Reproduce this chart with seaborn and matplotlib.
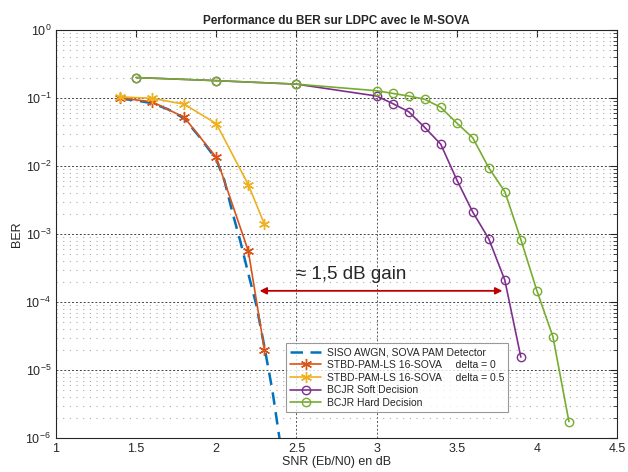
import numpy as np
import pandas as pd
import matplotlib
matplotlib.use("Agg")
import matplotlib.pyplot as plt
import seaborn as sns
from matplotlib.ticker import LogLocator, NullFormatter, FixedLocator

# -------------------------------
# Data
# -------------------------------
snr_awgn = [1.4, 1.5, 1.6, 1.7, 1.8, 1.9, 2.0, 2.05, 2.1, 2.15, 2.2, 2.25, 2.3, 2.35, 2.4]
ber_awgn = [0.098, 0.092, 0.084, 0.068, 0.050, 0.026, 0.0125, 0.0062, 0.0021,
            0.00078, 0.00026, 9e-5, 2.2e-5, 5e-6, 8e-7]

snr_stbd = [1.4, 1.6, 1.8, 2.0, 2.2, 2.3]
ber_stbd0 = [0.100, 0.088, 0.052, 0.0134, 0.00056, 2.0e-5]
ber_stbd05 = [0.104, 0.099, 0.081, 0.042, 0.0053, 0.0014]

snr_soft = [1.5, 2.0, 2.5, 3.0, 3.1, 3.2, 3.3, 3.4, 3.5, 3.6, 3.7, 3.8, 3.9]
ber_soft = [0.20, 0.18, 0.16, 0.107, 0.083, 0.063, 0.037, 0.021, 0.0063,
            0.0021, 0.00085, 0.00021, 1.55e-5]

snr_hard = [1.5, 2.0, 2.5, 3.0, 3.1, 3.2, 3.3, 3.4, 3.5, 3.6, 3.7, 3.8, 3.9, 4.0, 4.1, 4.2]
ber_hard = [0.20, 0.18, 0.16, 0.128, 0.117, 0.107, 0.096, 0.073, 0.043, 0.026,
            0.0094, 0.0042, 0.00083, 0.000147, 3.1e-5, 1.74e-6]

x_ticks = [1, 1.5, 2, 2.5, 3, 3.5, 4, 4.5]
x_ticklabels = ["1", "1.5", "2", "2.5", "3", "3.5", "4", "4.5"]
y_ticks = [1e-6, 1e-5, 1e-4, 1e-3, 1e-2, 1e-1, 1]

labels = ["SISO AWGN, SOVA PAM Detector",
          "STBD-PAM-LS 16-SOVA     delta = 0",
          "STBD-PAM-LS 16-SOVA     delta = 0.5",
          "BCJR Soft Decision",
          "BCJR Hard Decision"]
colors = ["#0072BD", "#D95319", "#EDB120", "#7E2F8E", "#77AC30"]

sns.set_style("white")
plt.rcParams['font.family'] = ['Liberation Sans', 'DejaVu Sans']

fig = plt.figure(figsize=(6.28, 4.72), dpi=100)
ax = fig.add_axes([0.0892, 0.072, 0.8933, 0.8644])

# grid first so the curves sit on top
ax.set_yscale("log")
ax.set_xlim(1, 4.5)
ax.set_ylim(1e-6, 1)
ax.yaxis.set_major_locator(FixedLocator(y_ticks))
ax.yaxis.set_minor_locator(LogLocator(base=10, subs=np.arange(2, 10), numticks=20))
ax.yaxis.set_minor_formatter(NullFormatter())
ax.grid(True, which="major", axis="y", linestyle=(0, (2, 2)), color="#444444", linewidth=0.7)
ax.grid(True, which="minor", axis="y", linestyle=(0, (1, 5)), color="#aaaaaa", linewidth=0.8)
ax.set_axisbelow(True)
for xv in [2.5, 3.0]:
    ax.axvline(xv, linestyle=(0, (2, 2)), color="#555555", linewidth=0.7, zorder=0)

# 1. AWGN reference curve (dashed)
sns.lineplot(x=snr_awgn, y=ber_awgn, ax=ax, color=colors[0], linestyle="--",
             linewidth=1.8, label=labels[0])
ax.lines[-1].set_dashes([5, 3])

# 2. STBD curves
sns.lineplot(x=snr_stbd, y=ber_stbd0, ax=ax, color=colors[1], linewidth=1.2,
             marker=(6, 2, 0), markersize=8, markeredgecolor=colors[1],
             markeredgewidth=1.0, label=labels[1])
sns.lineplot(x=snr_stbd, y=ber_stbd05, ax=ax, color=colors[2], linewidth=1.2,
             marker=(6, 2, 0), markersize=8, markeredgecolor=colors[2],
             markeredgewidth=1.0, label=labels[2])

# 3. BCJR curves
sns.lineplot(x=snr_soft, y=ber_soft, ax=ax, color=colors[3], linewidth=1.2,
             marker="o", markersize=6, markerfacecolor="none",
             markeredgecolor=colors[3], markeredgewidth=1.0, label=labels[3])
sns.lineplot(x=snr_hard, y=ber_hard, ax=ax, color=colors[4], linewidth=1.2,
             marker="o", markersize=6, markerfacecolor="none",
             markeredgecolor=colors[4], markeredgewidth=1.0, label=labels[4])

ax.xaxis.set_major_locator(FixedLocator(x_ticks))
ax.set_xticklabels(x_ticklabels)

ax.tick_params(axis="both", which="both", direction="in", top=True, right=True,
               labelsize=9, colors="#262626")
ax.tick_params(which="major", length=5, width=0.8)
ax.tick_params(which="minor", length=3, width=0.6)
for s in ax.spines.values():
    s.set_color("#262626")
    s.set_linewidth(0.8)

# gain arrow and label
ax.annotate("", xy=(2.27, 1.46e-4), xytext=(3.785, 1.46e-4),
            arrowprops=dict(arrowstyle="<|-|>", color="#C00000", lw=1.3,
                            mutation_scale=10, shrinkA=0, shrinkB=0))
ax.text(2.5, 2.5e-4, "\u2248 1,5 dB gain", fontsize=13.5, va="center", ha="left",
        family=['Liberation Sans', 'DejaVu Sans'])

ax.set_title("Performance du BER sur LDPC avec le M-SOVA", fontsize=8.5,
             fontweight="bold", pad=4)
ax.set_xlabel("SNR (Eb/N0) en dB", fontsize=9, labelpad=1)
ax.set_ylabel("BER", fontsize=9, labelpad=2)

leg = ax.legend(loc="upper left", bbox_to_anchor=(0.41, 0.232), fontsize=7.5,
                frameon=True, fancybox=False, edgecolor="#808080",
                handlelength=3.0, borderpad=0.4, labelspacing=0.25,
                handletextpad=0.5, borderaxespad=0)
leg.get_frame().set_linewidth(0.8)
leg.set_zorder(5)

fig.savefig("out.png", dpi=100)
